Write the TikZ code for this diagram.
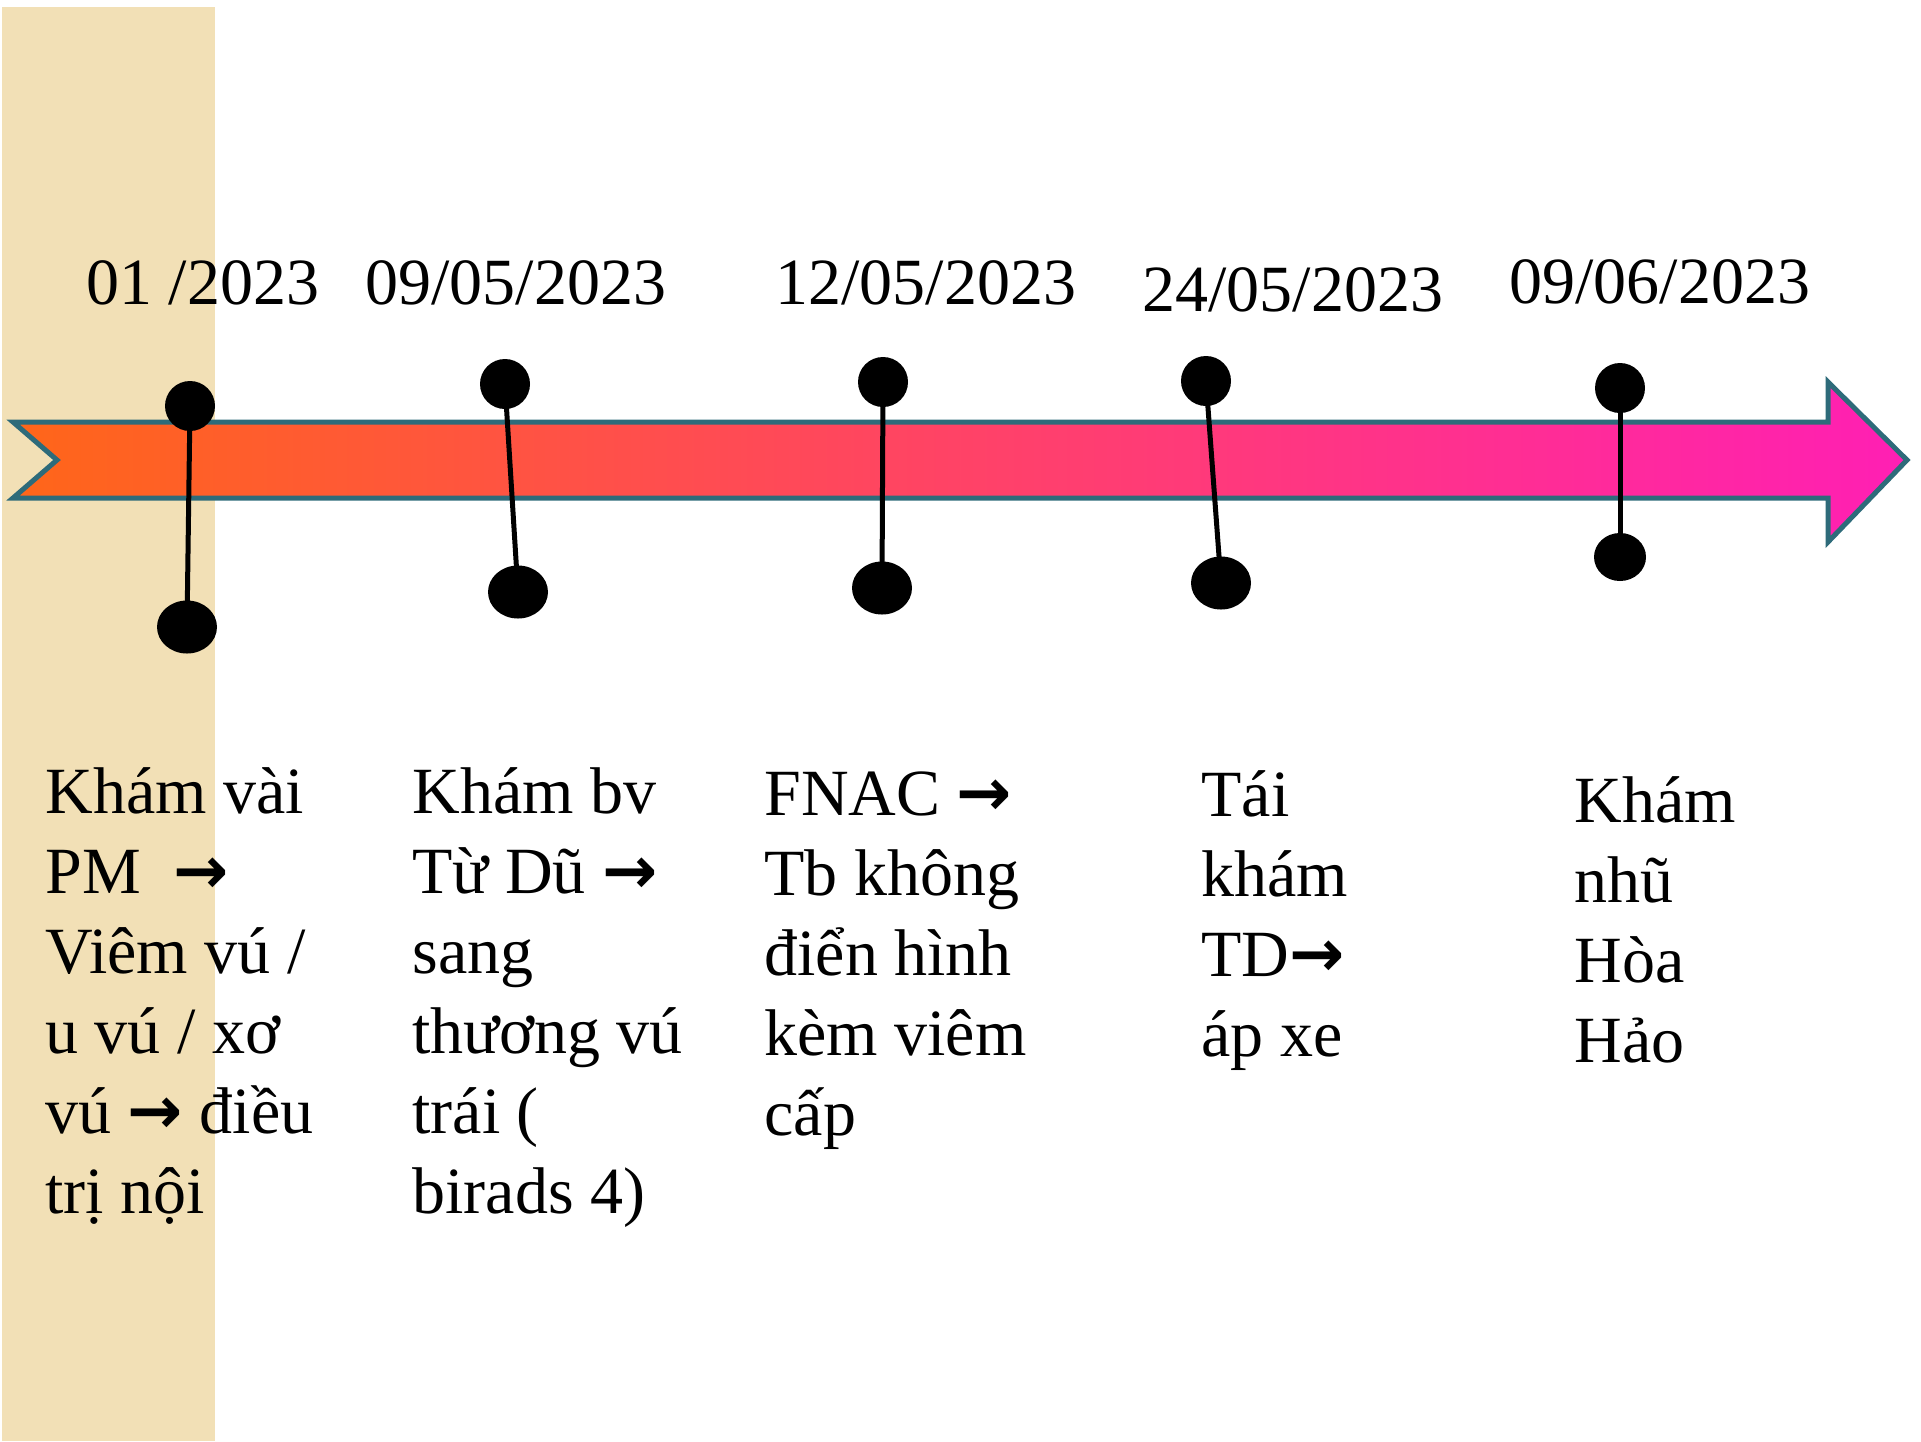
\documentclass[tikz,border=0pt]{standalone}
\usepackage{fontspec}
\setmainfont{Liberation Serif}
\newfontfamily\arrowfont{DejaVu Sans}
\usepackage{tikz}
\usetikzlibrary{shapes.geometric}

\definecolor{sand}{RGB}{242,224,182}
\definecolor{ribbonline}{RGB}{46,107,122}
\definecolor{ribbonleft}{RGB}{255,102,25}
\definecolor{ribbonright}{RGB}{255,31,180}

\newcommand{\tto}{{\arrowfont\bfseries →}}

\begin{document}
\begin{tikzpicture}[x=0.5pt,y=-0.5pt]

    \tikzstyle{pinhead}=[circle,fill=black,inner sep=0pt,minimum size=25pt]
    \tikzstyle{pinfoot}=[ellipse,fill=black,inner sep=0pt,minimum width=30pt,minimum height=26.5pt]
    \tikzstyle{stick}=[line width=2.5pt]
    \tikzstyle{date}=[anchor=base west,inner sep=0pt,font=\fontsize{33}{40}\selectfont]
    \tikzstyle{event}=[anchor=base west,inner sep=0pt,align=left,font=\fontsize{33}{40}\selectfont]

    \useasboundingbox (0,0) rectangle (1921,1441);
    \fill[sand] (2,7) rectangle (215,1441);

    \shadedraw[left color=ribbonleft,right color=ribbonright,draw=ribbonline,line width=2.5pt]
      (13,422) -- (1828,422) -- (1828,382) -- (1907,460) -- (1828,542)
      -- (1828,498) -- (13,498) -- (57,460) -- cycle;

    \node[pinhead] (t1) at (190,406) {};
    \node[pinfoot] (b1) at (187,627) {};
    \node[pinhead] (t2) at (505,384) {};
    \node[pinfoot] (b2) at (518,592) {};
    \node[pinhead] (t3) at (883,382) {};
    \node[pinfoot] (b3) at (882,588) {};
    \node[pinhead] (t4) at (1206,381) {};
    \node[pinfoot] (b4) at (1221,583) {};
    \node[pinhead] (t5) at (1620,388) {};
    \node[pinfoot,minimum width=26pt,minimum height=24pt] (b5) at (1620,557) {};
    \foreach \i in {1,...,5}
      \draw[stick] (t\i.center) -- (b\i.center);

    \node[date] (d1) at (86,304) {01 /2023};
    \node[date] (d2) at (365,304) {09/05/2023};
    \node[date] (d3) at (775,304) {12/05/2023};
    \node[date] (d4) at (1142,311) {24/05/2023};
    \node[date] (d5) at (1509,303) {09/06/2023};

    % base = last line
    \node[event] (e1) at (45,1213) {Khám vài\\PM\ \ \tto\\Viêm vú /\\u vú / xơ\\vú \tto{} điều\\trị nội};
    \node[event] (e2) at (412,1213) {Khám bv\\Từ Dũ \tto\\sang\\thương vú\\trái (\\birads 4)};
    \node[event] (e3) at (764,1135) {FNAC \tto\\Tb không\\điển hình\\kèm viêm\\cấp};
    \node[event] (e4) at (1201,1056) {Tái\\khám\\TD\tto\\áp xe};
    \node[event] (e5) at (1574,1062) {Khám\\nhũ\\Hòa\\Hảo};
\end{tikzpicture}
\end{document}
